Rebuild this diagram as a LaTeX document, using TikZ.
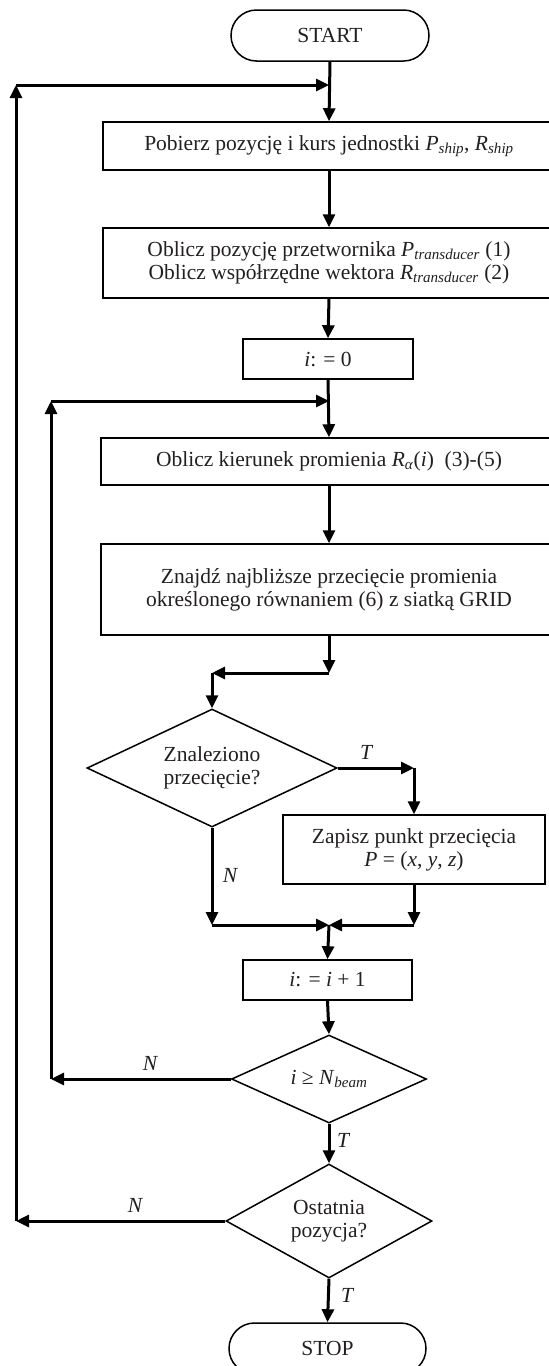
\documentclass[tikz,border=0pt]{standalone}
\usepackage{fontspec}
\setmainfont{Liberation Serif}
\usetikzlibrary{shapes.geometric,shapes.misc,arrows.meta}
\begin{document}
\begin{tikzpicture}[x=1pt,y=-1pt,
  every node/.style={font=\fontsize{21.5}{23}\selectfont, text={rgb,255:red,35;green,31;blue,32}},
  box/.style={draw, line width=1.5pt, align=center, inner sep=0pt},
  term/.style={draw, rounded rectangle, line width=1.5pt, inner sep=0pt},
  dec/.style={draw, diamond, line width=1.5pt, inner sep=0pt, align=center},
  arr/.style={line width=3pt, -{Triangle[length=13pt,width=12pt]}},
  lbl/.style={font=\fontsize{21.5}{23}\selectfont\itshape, inner sep=0pt}
]
\useasboundingbox (0,0) rectangle (549,1366);

\node[term, minimum width=198pt, minimum height=51pt] (start) at (330,35.5) {START};
\node[box, minimum width=452pt, minimum height=48pt] (b1) at (329,146)
  {Pobierz pozycję i kurs jednostki \textit{P}\textsubscript{\textit{ship}}, \textit{R}\textsubscript{\textit{ship}}};
\node[box, minimum width=452pt, minimum height=70pt] (b2) at (329,263)
  {Oblicz pozycję przetwornika \textit{P}\textsubscript{\textit{transducer}} (1)\\Oblicz współrzędne wektora \textit{R}\textsubscript{\textit{transducer}} (2)};
\node[box, minimum width=170pt, minimum height=40pt] (i0) at (328,359) {\textit{i}: = 0};
\node[box, minimum width=456pt, minimum height=47pt] (b3) at (329,461.5)
  {Oblicz kierunek promienia \textit{R}\textsubscript{\textit{α}}(\textit{i})\ \ (3)-(5)};
\node[box, minimum width=456pt, minimum height=91pt] (b4) at (329,589.5)
  {Znajdź najbliższe przecięcie promienia\\określonego równaniem (6) z siatką GRID};
\node[dec, shape aspect=2.1, minimum width=250pt, minimum height=118pt] (d1) at (212,768)
  {Znaleziono\\przecięcie?};
\node[box, minimum width=262pt, minimum height=69pt] (b5) at (414,849.5)
  {Zapisz punkt przecięcia\\\textit{P} = (\textit{x}, \textit{y}, \textit{z})};
\node[box, minimum width=169pt, minimum height=40pt] (i1) at (327.5,980) {\textit{i}: = \textit{i} + 1};
\node[dec, shape aspect=2.2, minimum width=195pt, minimum height=88pt] (d2) at (329,1079)
  {\textit{i} ≥ \textit{N}\textsubscript{\textit{beam}}};
\node[dec, shape aspect=1.8, minimum width=206pt, minimum height=114pt] (d3) at (329,1221)
  {Ostatnia\\pozycja?};
\node[term, minimum width=197pt, minimum height=51pt] (stop) at (327.5,1348.5) {STOP};

% coordinates
\coordinate (L1a) at (16,1221);
\coordinate (L1b) at (16,85);
\coordinate (L1c) at (329,85);
\coordinate (L2a) at (51,1079);
\coordinate (L2b) at (51,401);
\coordinate (L2c) at (329,401);
\coordinate (J1) at (329,673);
\coordinate (J2) at (212,673);
\coordinate (C1) at (414,768);
\coordinate (C2) at (414,925);
\coordinate (C3) at (212,925);
\coordinate (M) at (329,925);

% connectors
\draw[arr] (start.south) -- (b1.north);
\draw[arr] (L1b) -- (L1c);
\draw[arr] (b1.south) -- (b2.north);
\draw[arr] (b2.south) -- (i0.north);
\draw[arr] (i0.south) -- (b3.north);
\draw[arr] (L2b) -- (L2c);
\draw[arr] (b3.south) -- (b4.north);
\draw[arr] (b4.south) -- (J1);
\draw[arr] (J1) -- (J2);
\draw[arr] (J2) -- (d1.north);
\draw[arr] (d1.east) -- (C1);
\draw[arr] (C1) -- (b5.north);
\draw[arr] (b5.south) -- (C2);
\draw[arr] (C2) -- (M);
\draw[arr] (d1.south) -- (C3);
\draw[arr] (C3) -- (M);
\draw[arr] (M) -- (i1.north);
\draw[arr] (i1.south) -- (d2.north);
\draw[arr] (d2.west) -- (L2a);
\draw[arr] (L2a) -- (L2b);
\draw[arr] (d2.south) -- (d3.north);
\draw[arr] (d3.west) -- (L1a);
\draw[arr] (L1a) -- (L1b);
\draw[arr] (d3.south) -- (stop.north);

% labels
\node[lbl] (tT1) at (366,752) {T};
\node[lbl] (tN1) at (230,875) {N};
\node[lbl] (tN2) at (150,1063) {N};
\node[lbl] (tT2) at (343,1140) {T};
\node[lbl] (tN3) at (135,1205) {N};
\node[lbl] (tT3) at (347,1295) {T};
\end{tikzpicture}
\end{document}
